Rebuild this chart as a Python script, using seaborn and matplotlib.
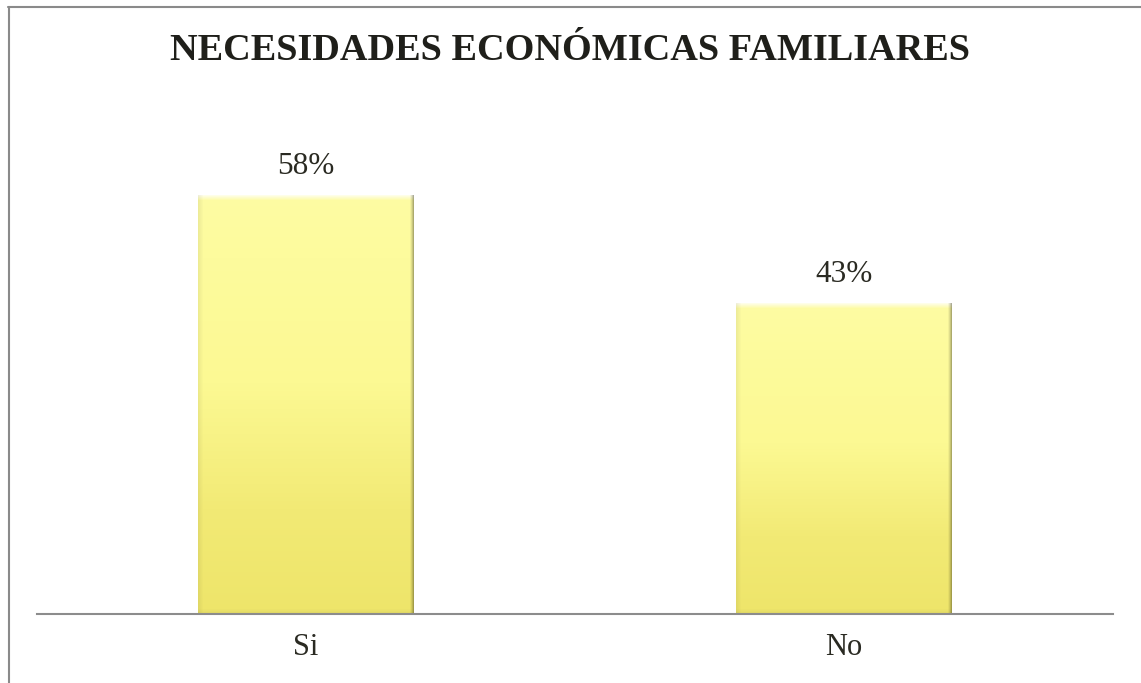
import numpy as np
import pandas as pd
import matplotlib
matplotlib.use("Agg")
import matplotlib.pyplot as plt
from matplotlib.lines import Line2D
from matplotlib.colors import to_rgb
import seaborn as sns

categories = ["Si", "No"]
values = [58, 43]
labels = ["58%", "43%"]
title = "NECESIDADES ECONÓMICAS FAMILIARES"

sns.set_theme(style="white")
plt.rcParams["font.family"] = ["Liberation Serif", "DejaVu Serif"]

df = pd.DataFrame({"cat": categories, "val": values})

fig = plt.figure(figsize=(11.41, 6.83), dpi=100)
ax = fig.add_axes([37 / 1141, 69 / 683, 1076 / 1141, 505 / 683])

sns.barplot(data=df, x="cat", y="val", color="#f5ef82", width=0.40, ax=ax,
            linewidth=0, saturation=1)

ax.set_xlim(-0.5, 1.5)
ax.set_ylim(0, 70)

# vertical colour stops (bottom -> top)
stops = [0.0, 0.25, 0.55, 0.85, 1.0]
cols = np.array([to_rgb(c) for c in
                 ["#eee56a", "#f2ea75", "#fcf993", "#fdfb9d", "#fdfba3"]])


def bar_image(wpx, hpx):
    t = np.linspace(0, 1, hpx)[::-1]  # row 0 = top
    rgb = np.stack([np.interp(t, stops, cols[:, k]) for k in range(3)], axis=1)
    img = np.repeat(rgb[:, None, :], wpx, axis=1)
    yy, xx = np.mgrid[0:hpx, 0:wpx]
    # top bevel highlight
    top = np.clip(1 - yy / 5.0, 0, 1)
    img = img * (1 - 0.75 * top[..., None]) + 0.75 * top[..., None]
    # bottom bevel shade
    bot = np.clip(1 - (hpx - 1 - yy) / 5.0, 0, 1)
    img = img * (1 - 0.05 * bot[..., None])
    # left bevel
    lft = np.clip(1 - xx / 5.0, 0, 1)
    img = img * (1 - 0.06 * lft[..., None])
    # right bevel / shadow
    rgt = np.clip(1 - (wpx - 1 - xx) / 4.0, 0, 1)
    img = img * (1 - 0.32 * rgt[..., None] ** 1.5)
    return np.clip(img, 0, 1)


fig.canvas.draw()
for p, lab in zip(ax.patches, labels):
    x0, y0 = p.get_x(), p.get_y()
    w, h = p.get_width(), p.get_height()
    ext = p.get_window_extent()
    wpx, hpx = max(int(round(ext.width)), 2), max(int(round(ext.height)), 2)
    im = ax.imshow(bar_image(wpx, hpx), aspect="auto",
                   extent=[x0, x0 + w, y0, y0 + h],
                   zorder=p.get_zorder() + 0.1, interpolation="nearest")
    ax.text(x0 + w / 2, y0 + h + 2.0, lab, ha="center", va="bottom",
            fontsize=22.5, color="#2a2a22")

ax.set_xlabel("")
ax.set_ylabel("")
ax.set_yticks([])
ax.tick_params(axis="x", length=0, labelsize=22, labelcolor="#2a2a22", pad=14)
for s in ["top", "right", "left"]:
    ax.spines[s].set_visible(False)
ax.spines["bottom"].set_color("#8c8c8c")
ax.spines["bottom"].set_linewidth(1.5)
ax.spines["bottom"].set_zorder(5)

fig.text(0.5, 1 - 50 / 683, title, ha="center", va="center",
         fontsize=27.5, fontweight="bold", color="#1f1f1a")

# outer frame (top and left)
fig.add_artist(Line2D([8 / 1141, 1], [1 - 6.5 / 683, 1 - 6.5 / 683],
                      transform=fig.transFigure, color="#8a8a8a", lw=1.5))
fig.add_artist(Line2D([8.5 / 1141, 8.5 / 1141], [0, 1 - 6.5 / 683],
                      transform=fig.transFigure, color="#8a8a8a", lw=1.5))

fig.savefig("out.png", dpi=100, facecolor="white")
